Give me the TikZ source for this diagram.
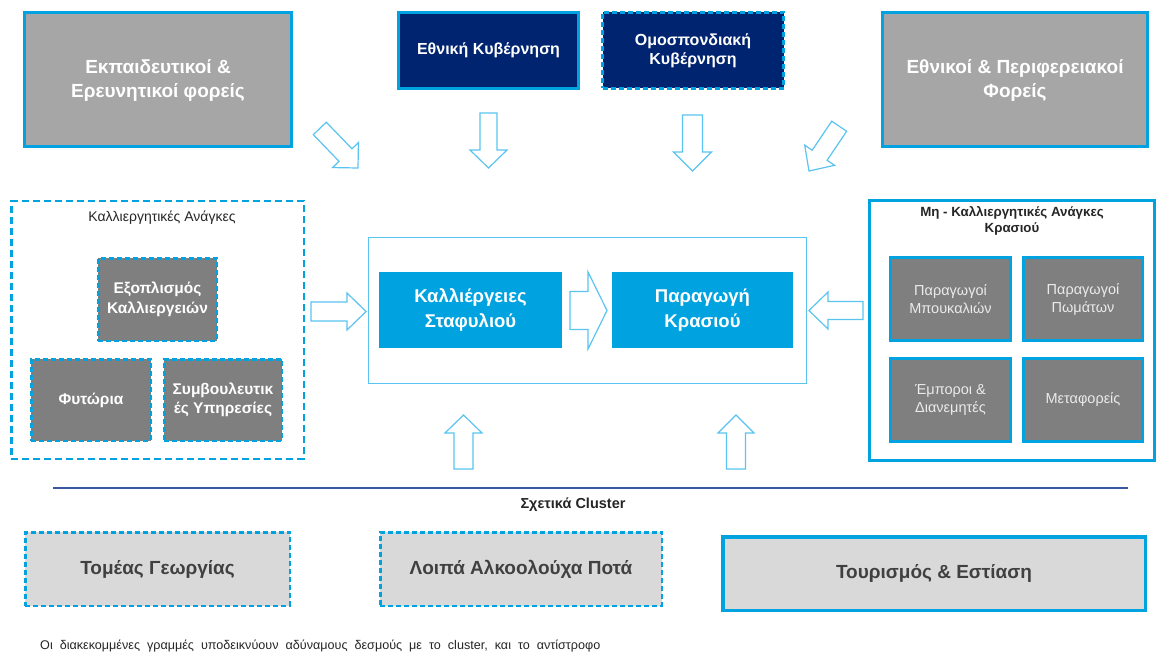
\documentclass[tikz,border=0pt]{standalone}
\usepackage{fontspec}
\setmainfont{Liberation Sans}
\definecolor{cblue}{RGB}{0,163,224}
\definecolor{lblue}{RGB}{90,196,240}
\definecolor{navy}{RGB}{0,36,112}
\definecolor{gmid}{RGB}{166,166,166}
\definecolor{gdark}{RGB}{127,127,127}
\definecolor{glight}{RGB}{217,217,217}
\definecolor{tdark}{RGB}{64,64,64}
\definecolor{tblack}{RGB}{38,38,38}
\definecolor{rulec}{RGB}{58,88,160}
\definecolor{tlight}{RGB}{235,235,235}
\newcommand\blockarr[6]{%
  \draw[arrowline, shift={#1}, rotate=#2] (0,0) -- (-#4,#5) -- (-#4,#6) -- (-#3,#6) -- (-#3,-#6) -- (-#4,-#6) -- (-#4,-#5) -- cycle;}
\begin{document}
\begin{tikzpicture}[x=1pt,y=-1pt,
  box/.style 2 args={minimum width=#1pt, minimum height=#2pt, inner sep=0pt, align=center},
  topgray/.style={fill=gmid, draw=cblue, line width=3pt, text=white, font=\fontsize{19}{24}\selectfont\bfseries},
  topnavy/.style={fill=navy, draw=cblue, line width=2.5pt, text=white, font=\fontsize{16}{19}\selectfont\bfseries},
  dashbox/.style={dash pattern=on 5pt off 3pt},
  bigdash/.style={dash pattern=on 7pt off 4pt},
  cultbox/.style={fill=gdark, draw=cblue, line width=2.5pt, dashbox, text=white, font=\fontsize{15.5}{19.5}\selectfont\bfseries},
  corebox/.style={fill=cblue, text=white, font=\fontsize{18.5}{25}\selectfont\bfseries},
  noncult/.style={fill=gdark, draw=cblue, line width=3pt, text=tlight, font=\fontsize{14.5}{18}\selectfont},
  clusterbox/.style={fill=glight, draw=cblue, line width=2.5pt, text=tdark, font=\fontsize{19}{24}\selectfont\bfseries},
  label/.style={text=tblack, inner sep=0pt, align=center},
  arrowline/.style={draw=lblue, line width=1.2pt, fill=white, line join=miter}
]
\useasboundingbox[fill=white] (0,0) rectangle (1156,655);

% top row
\node[box={267}{134}, topgray] (edu) at (158,80) {Εκπαιδευτικοί \&\\Ερευνητικοί φορείς};
\node[box={180}{76}, topnavy] (gov) at (488.5,50.5) {Εθνική Κυβέρνηση};
\node[box={181}{76}, topnavy, dashbox, text depth=2pt] (fed) at (693,50.5) {Ομοσπονδιακή\\Κυβέρνηση};
\node[box={265}{134}, topgray] (reg) at (1015,80) {Εθνικοί \& Περιφερειακοί\\Φορείς};

% left container
\node[box={292.5}{257.5}, draw=cblue, line width=2.5pt, bigdash] (cultc) at (157.5,330) {};
\node[label, font=\fontsize{14}{16}\selectfont] (cultl) at (162,218) {Καλλιεργητικές Ανάγκες};
\node[box={118.5}{82.5}, cultbox] (equip) at (157.5,299.5) {Εξοπλισμός\\Καλλιεργειών};
\node[box={119.5}{81.5}, cultbox] (nurs) at (91,400) {Φυτώρια};
\node[box={117.5}{81.5}, cultbox] (advis) at (223,400) {Συμβουλευτικ\\ές Υπηρεσίες};

% centre
\node[box={438}{146}, draw=lblue, line width=1.2pt] (core) at (587.5,310.5) {};
\node[box={183}{76}, corebox] (vine) at (470.5,310) {Καλλιέργειες\\Σταφυλιού};
\node[box={181}{76}, corebox] (wine) at (702.5,310) {Παραγωγή\\Κρασιού};

% right container
\node[box={285}{260}, draw=cblue, line width=3pt] (noncc) at (1012,330.5) {};
\node[label, font=\fontsize{13.3}{16}\selectfont\bfseries] (noncl) at (1012,221) {Μη - Καλλιεργητικές Ανάγκες\\Κρασιού};
\node[box={120}{83}, noncult] (bottle) at (950.5,299) {Παραγωγοί\\Μπουκαλιών};
\node[box={119}{83}, noncult] (cork) at (1083,299) {Παραγωγοί\\Πωμάτων};
\node[box={120}{83}, noncult] (trade) at (950.5,400) {Έμποροι \&\\Διανεμητές};
\node[box={119}{83}, noncult] (trans) at (1083,400) {Μεταφορείς};

% arrows
\blockarr{(358,168)}{-46}{55}{18}{18}{9}
\blockarr{(488.5,168)}{-90}{55}{18}{18.5}{8.5}
\blockarr{(692.5,171)}{-90}{56}{19}{19}{10}
\blockarr{(809,171)}{-124}{54}{19}{18}{9}
\blockarr{(366,311.5)}{0}{55}{19}{18.5}{9.5}
\blockarr{(809,310.5)}{180}{54}{19}{18.5}{9}
\blockarr{(607,310.5)}{0}{37}{19}{38.5}{19}
\blockarr{(463.5,415)}{90}{54}{18}{18.5}{9.5}
\blockarr{(736,415)}{90}{54}{18}{18}{9.5}

% cluster section
\coordinate (ruleL) at (53,488);
\coordinate (ruleR) at (1128,488);
\draw[rulec, line width=1.2pt] (ruleL) -- (ruleR);
\node[label, font=\fontsize{14.5}{16}\selectfont\bfseries] (clus) at (573,505) {Σχετικά Cluster};
\node[box={264.5}{73.5}, clusterbox, dashbox] (agri) at (157.5,569) {Τομέας Γεωργίας};
\node[box={281.5}{73.5}, clusterbox, dashbox] (spir) at (521,569) {Λοιπά Αλκοολούχα Ποτά};
\node[box={422.5}{73.5}, clusterbox, line width=3.5pt] (tour) at (934,573.5) {Τουρισμός \& Εστίαση};

\node[label, anchor=west, font=\fontsize{12.6}{14}\selectfont] (note) at (40,646) {\spaceskip=7pt plus 1pt Οι διακεκομμένες γραμμές υποδεικνύουν αδύναμους δεσμούς με το cluster, και το αντίστροφο};
\end{tikzpicture}
\end{document}
